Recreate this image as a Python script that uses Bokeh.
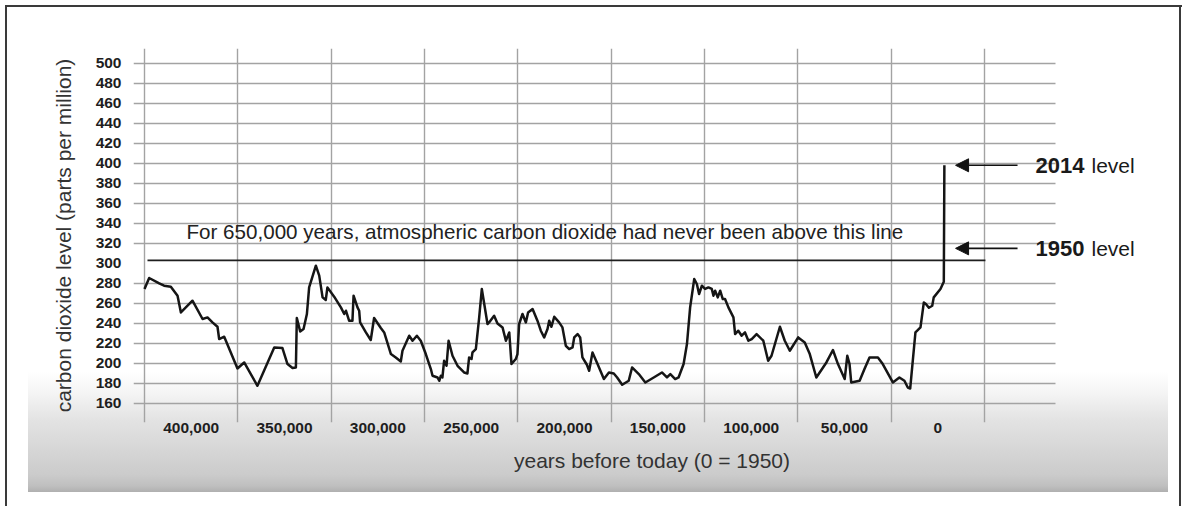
from bokeh.plotting import figure
from bokeh.models import (Range1d, FixedTicker, NumeralTickFormatter, Label,
                          Arrow, NormalHead, InlineStyleSheet)
from bokeh.embed import file_html
from bokeh.resources import INLINE

# ---------------- data ----------------
years_bp = [425000, 422500, 417100, 414500, 410900, 407300, 405500, 399300, 393900, 391250,
            388600, 385900, 385000, 382300, 375200, 371600, 364500, 355500, 351100, 348400,
            345700, 343900, 343400, 341600, 339800, 338000, 336800, 333200, 331400, 329600,
            327900, 327000, 323400, 319800, 318000, 317100, 315400, 313600, 313000, 310900,
            310000, 309500, 306400, 303800, 302000, 298400, 296600, 293000, 290400, 287700,
            286800, 283200, 281400, 279100, 277000, 274300, 271600, 270700, 268000, 267100,
            266250, 265400, 264500, 263200, 262100, 260000, 257300, 253800, 252000, 251100,
            249800, 249300, 247500, 245700, 244300, 241250, 240400, 237700, 235900, 233200,
            231400, 229600, 228400, 226100, 225200, 224300, 222500, 220700, 219500, 217100,
            214500, 212700, 210900, 209100, 208200, 207000, 205500, 202900, 201100, 199300,
            197500, 195700, 194800, 193000, 191600, 190400, 188000, 186800, 185000, 182300,
            178900, 176200, 173600, 171800, 169100, 165600, 163800, 160200, 156700, 152200,
            147800, 145100, 143300, 140700, 138900, 136200, 134400, 132700, 130500, 129100,
            127900, 126400, 124700, 122900, 121100, 120200, 119300, 117900, 116600, 115200,
            114000, 112200, 109500, 108600, 106900, 105100, 103300, 101500, 99700, 97100,
            93500, 90900, 89100, 84600, 82000, 79300, 74800, 71300, 68600, 65100,
            59700, 56200, 53500, 49900, 48500, 47300, 46400, 41900, 39300, 36600,
            32100, 29500, 24100, 20600, 17900, 16100, 14800, 12000, 9300, 7500,
            6400, 4800, 3000, 2200, -1400, -3200, -3500]

co2_ppm = [274.4, 285.4, 280.0, 277.7, 276.7, 267.7, 251.0, 262.7, 244.4, 246.0,
           241.0, 236.7, 224.4, 226.7, 195.0, 201.0, 177.7, 216.0, 215.4, 199.4,
           195.4, 196.0, 245.4, 232.0, 234.4, 249.4, 276.0, 297.7, 287.7, 266.0,
           263.4, 276.0, 266.7, 256.0, 249.4, 252.7, 242.7, 242.7, 267.7, 256.0,
           252.7, 241.0, 231.0, 223.4, 245.4, 235.4, 231.0, 209.4, 206.0, 202.0,
           212.7, 227.7, 222.7, 227.7, 222.7, 209.4, 194.4, 187.7, 186.0, 182.7,
           187.7, 186.0, 202.7, 197.7, 222.7, 207.7, 197.7, 191.0, 190.0, 206.0,
           204.4, 211.0, 214.4, 246.0, 274.4, 239.4, 241.0, 247.7, 240.0, 236.0,
           222.7, 231.0, 199.4, 204.4, 209.4, 239.4, 249.4, 241.0, 251.0, 254.4,
           242.7, 232.7, 226.0, 234.4, 242.7, 236.7, 246.7, 241.0, 236.0, 217.7,
           214.4, 216.0, 226.0, 229.4, 226.0, 206.0, 198.7, 192.7, 211.0, 199.4,
           184.4, 191.0, 190.0, 186.0, 178.7, 182.7, 196.0, 189.4, 181.0, 186.0,
           191.0, 186.0, 189.4, 184.4, 186.0, 199.4, 219.4, 256.0, 284.4, 279.4,
           269.4, 277.7, 274.4, 276.0, 274.4, 267.7, 272.7, 266.0, 272.7, 264.4,
           264.4, 256.0, 246.0, 229.4, 232.7, 227.7, 231.0, 222.7, 224.4, 229.4,
           222.7, 202.7, 207.7, 236.7, 222.7, 212.7, 226.0, 221.0, 209.4, 186.0,
           201.0, 213.4, 199.4, 184.4, 207.7, 199.4, 181.0, 182.7, 194.4, 206.0,
           206.0, 199.4, 181.0, 186.0, 182.7, 176.0, 175.0, 231.0, 236.0, 261.0,
           259.4, 255.7, 257.7, 266.0, 274.4, 281.7, 398.0]

x_tick_years = [400000, 350000, 300000, 250000, 200000, 150000, 100000, 50000, 0]
x_grid_years = [425000, 375000, 325000, 275000, 225000, 175000, 125000, 75000, 25000, -25000]
y_ticks = [160, 180, 200, 220, 240, 260, 280, 300, 320, 340, 360, 380, 400,
           420, 440, 460, 480, 500]

limit_ppm = 303.0      # "never been above this line"
level_2014 = 398.0
level_1950 = 315.0

note_text = "For 650,000 years, atmospheric carbon dioxide had never been above this line"
x_title = "years before today (0 = 1950)"
y_title = "carbon dioxide level (parts per million)"

FONT = "Liberation Sans"

# ---------------- figure ----------------
W, H = 1184, 506
FL, FR, FT, FB = 133, 1170, 48, 422          # frame edges in canvas pixels
X0, X1 = 430893.0, -124639.0                 # years at frame left / right
Y0, Y1 = 141.0, 514.7                        # ppm at frame bottom / top


def px_year(px):
    return X0 + (px - FL) * (X1 - X0) / (FR - FL)


css = """
:host {
  background-color: #ffffff;
  background-image:
    linear-gradient(#3a3a3a, #3a3a3a),
    linear-gradient(#3a3a3a, #3a3a3a),
    linear-gradient(#3a3a3a, #3a3a3a),
    linear-gradient(to bottom, #ffffff 0px, #f3f3f3 23px, #e3e3e3 48px, #d6d6d6 78px,
                    #cbcbcb 103px, #bfbfbf 114px, #b0b0b0 120px);
  background-size: 2.3px 501px, 1177px 2.3px, 2.3px 501px, 1140px 120px;
  background-position: 5px 5px, 5px 5px, 1179px 5px, 28px 372px;
  background-repeat: no-repeat;
}
"""

p = figure(width=W, height=H, x_range=Range1d(X0, X1), y_range=Range1d(Y0, Y1),
           output_backend="svg", toolbar_location=None,
           min_border_left=FL, min_border_right=W - FR, min_border_top=FT, min_border_bottom=H - FB)
p.background_fill_color = None
p.border_fill_color = None
p.outline_line_color = None
p.stylesheets = [InlineStyleSheet(css=css)]

# grids
p.xgrid.ticker = FixedTicker(ticks=x_grid_years)
p.ygrid.ticker = FixedTicker(ticks=[t for t in y_ticks if t != 300])
p.ygrid.cross_bounds = (px_year(1055), px_year(133))
for g in (p.xgrid, p.ygrid):
    g.grid_line_color = "#a3a3a3"
    g.grid_line_width = 1.4

# axes
p.xaxis.ticker = FixedTicker(ticks=x_tick_years)
p.xaxis.formatter = NumeralTickFormatter(format="0,0")
p.yaxis.ticker = FixedTicker(ticks=y_ticks)
for ax in (p.xaxis, p.yaxis):
    ax.axis_line_color = None
    ax.major_tick_line_color = None
    ax.minor_tick_line_color = None
    ax.major_tick_out = 0
    ax.major_tick_in = 0
    ax.major_label_text_font = FONT
    ax.major_label_text_font_style = "bold"
    ax.major_label_text_font_size = "15.5px"
    ax.major_label_text_color = "#1e1e1e"
    ax.axis_label_text_font = FONT
    ax.axis_label_text_font_style = "normal"
    ax.axis_label_text_font_size = "21px"
    ax.axis_label_text_color = "#333333"
p.yaxis.major_label_standoff = 12
p.xaxis.major_label_standoff = 0
p.xaxis.axis_label = x_title
p.yaxis.axis_label = y_title
p.xaxis.axis_label_standoff = 13
p.yaxis.axis_label_standoff = 18

# limit line
p.segment(x0=[423400], y0=[limit_ppm], x1=[-25500], y1=[limit_ppm],
          line_color="#1e1e1e", line_width=1.6)

# CO2 record
p.line(years_bp, co2_ppm, line_color="#151515", line_width=2.5, line_join="round")

# annotation text
p.add_layout(Label(x=402500, y=331.8, text=note_text, text_font=FONT, text_font_size="20.6px",
                   text_color="#222222", text_baseline="middle", text_align="left"))

for lvl, yr_text in [(level_2014, "2014"), (level_1950, "1950")]:
    p.add_layout(Arrow(end=NormalHead(size=13, fill_color="#111111", line_color="#111111", line_width=1),
                       x_start=-42700, y_start=lvl, x_end=-9500, y_end=lvl,
                       line_color="#111111", line_width=1.6))
    p.add_layout(Label(x=px_year(1035), y=lvl, text=yr_text, text_font=FONT, text_font_style="bold",
                       text_font_size="22px", text_color="#1a1a1a", text_baseline="middle",
                       text_align="left"))
    p.add_layout(Label(x=px_year(1091), y=lvl, text="level", text_font=FONT,
                       text_font_size="21px", text_color="#1a1a1a", text_baseline="middle",
                       text_align="left"))

open("out.html", "w").write(file_html(p, INLINE))
